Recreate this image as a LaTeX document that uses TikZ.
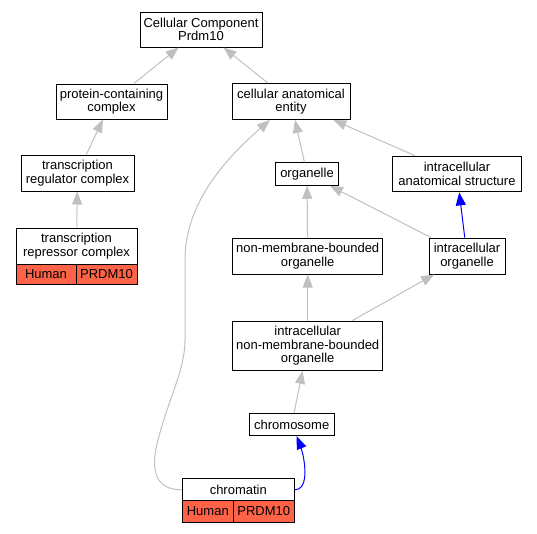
\documentclass[tikz,border=0pt]{standalone}
\usepackage{fontspec}
\setmainfont{Liberation Sans}
\usetikzlibrary{arrows.meta}
\definecolor{tomatored}{RGB}{255,99,71}
\definecolor{edgegray}{RGB}{192,192,192}
\begin{document}
\begin{tikzpicture}[x=1pt,y=-1pt,
 box/.style={draw=black,line width=1pt,fill=white,align=center,inner sep=0pt,font=\fontsize{13}{13.5}\selectfont},
 cell/.style={box,fill=tomatored},
 gedge/.style={draw=edgegray,line width=1pt,-{Triangle[length=13pt,width=10pt]}},
 bedge/.style={gedge,draw=blue}]
\useasboundingbox (0,0) rectangle (537,533);
\node[box,minimum width=122pt,minimum height=35pt] (cc) at (201,29.5) {Cellular Component\\Prdm10};
\node[box,minimum width=111pt,minimum height=35pt] (pcc) at (111.5,101.5) {protein-containing\\complex};
\node[box,minimum width=113pt,minimum height=36pt] (trc) at (77.5,173) {transcription\\regulator complex};
\node[box,minimum width=121pt,minimum height=36pt] (trep) at (76.5,246) {transcription\\repressor complex};
\node[cell,minimum width=60pt,minimum height=20pt] (trepH) at (46,274) {Human};
\node[cell,minimum width=61pt,minimum height=20pt] (trepP) at (106.5,274) {PRDM10};
\node[box,minimum width=118pt,minimum height=36pt] (cae) at (291,101.5) {cellular anatomical\\entity};
\node[box,minimum width=63pt,minimum height=22.5pt] (org) at (307,174) {organelle};
\node[box,minimum width=128.5pt,minimum height=35.7pt] (ias) at (457,174) {intracellular\\anatomical structure};
\node[box,minimum width=150pt,minimum height=36pt] (nmbo) at (307.7,256) {non-membrane-bounded\\organelle};
\node[box,minimum width=76pt,minimum height=36pt] (io) at (467,256) {intracellular\\organelle};
\node[box,minimum width=150pt,minimum height=49.3pt] (inmbo) at (307.7,345.7) {intracellular\\non-membrane-bounded\\organelle};
\node[box,minimum width=85.3pt,minimum height=22.4pt] (chrom) at (291.7,424.5) {chromosome};
\node[box,minimum width=112pt,minimum height=21.7pt] (chtin) at (238.3,489.8) {chromatin};
\node[cell,minimum width=51pt,minimum height=21.6pt] (chtinH) at (207.8,511.5) {Human};
\node[cell,minimum width=61pt,minimum height=21.6pt] (chtinP) at (263.8,511.5) {PRDM10};
% edges
\draw[gedge] (pcc) -- (cc);
\draw[gedge] (cae) -- (cc);
\draw[gedge] (trc) -- (pcc);
\draw[gedge] (trep) -- (trc);
\draw[gedge] (org) -- (cae);
\draw[gedge] (ias) -- (cae);
\draw[gedge] (nmbo) -- (org);
\draw[gedge] (io) -- (org);
\draw[bedge] (io) -- (ias);
\draw[gedge] (inmbo) -- (nmbo);
\draw[gedge] (inmbo) -- (io);
\draw[gedge] (chrom) -- (inmbo);
\draw[gedge] (chtin.west) .. controls (155,489.8) and (150,470) .. (158,440)
  .. controls (168,400) and (185,370) .. (185,340) -- (185,260)
  .. controls (185,200) and (230,155) .. (cae);
\draw[bedge] (chtin.east) .. controls (307,489.8) and (306,470) .. (303,455) .. controls (301,447) and (299,442) .. (chrom);
\end{tikzpicture}
\end{document}
